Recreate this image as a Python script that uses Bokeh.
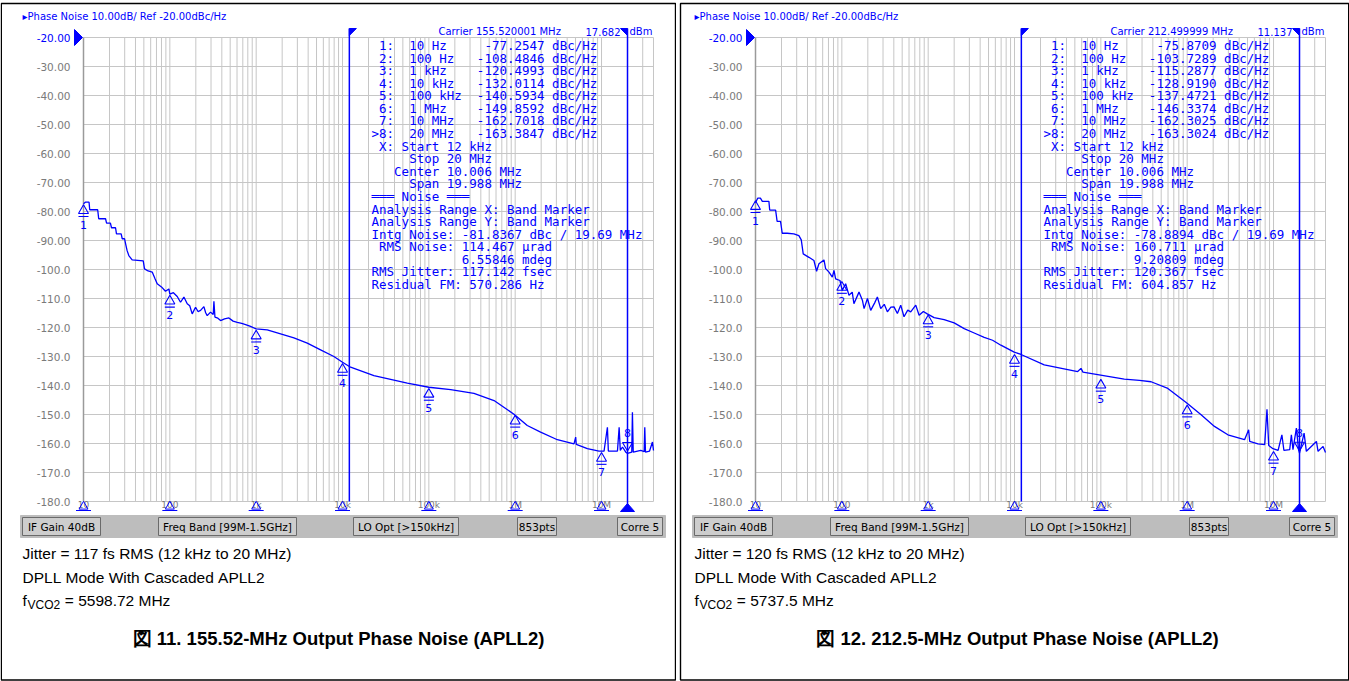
import math
from bokeh.plotting import figure
from bokeh.models import Range1d, Label, BoxAnnotation
from bokeh.layouts import row
from bokeh.embed import file_html
from bokeh.resources import INLINE
from bokeh.core.properties import value

# ---------------- data ----------------
freq_fig11 = [10, 10.5, 11.6, 11.8, 14.6, 15.0, 18.0, 18.5, 20.5, 21.1,
              23.5, 24.1, 27.3, 28.1, 29.9, 30.7, 32.0, 33.5, 36.6, 49.2,
              50.9, 56, 62.5, 67, 71.4, 80, 89, 97.5, 100, 110,
              121.8, 133, 145.5, 159, 170, 181.6, 198.6, 212, 227, 248,
              260, 271, 296, 318, 324, 333, 360, 387, 430, 483,
              540, 604, 680, 754, 860, 1000, 1343, 1918, 2736, 3908,
              5572, 7943, 1e4, 1.24e4, 2.31e4, 5.63e4, 1e5, 1.79e5, 3.33e5, 5.69e5,
              9.69e5, 1.38e6, 1.97e6, 3.08e6, 4.8e6, 5.02e6, 5.1e6, 6.86e6, 9.35e6, 1.07e7,
              1.17e7, 1.2e7, 1.53e7, 1.6e7, 1.65e7, 1.75e7, 1.91e7, 2e7, 2.24e7, 2.28e7,
              2.33e7, 2.85e7, 3.12e7, 3.17e7, 3.23e7, 3.6e7, 3.89e7, 4e7]
pn_fig11 = [-77.3, -76.8, -76.8, -79.4, -79.4, -82.5, -82.5, -84.0, -84.0, -85.6,
            -85.6, -87.7, -87.7, -89.4, -89.4, -91.1, -93.5, -95.2, -96.7, -97.0,
            -99.8, -100.5, -100.9, -103.0, -104.9, -106.0, -107.5, -106.7, -108.5, -108.0,
            -109.3, -111.3, -109.5, -111.8, -112.5, -115.3, -113.0, -114.5, -114.1, -112.8,
            -114.9, -115.9, -114.7, -115.5, -111.0, -116.4, -116.8, -117.6, -117.0, -116.7,
            -117.8, -118.2, -118.6, -119.0, -119.6, -120.5, -120.8, -122.2, -123.6, -125.4,
            -127.7, -130.0, -132.0, -133.7, -136.6, -139.2, -140.6, -141.4, -142.7, -145.2,
            -149.9, -153.8, -156.1, -158.7, -160.1, -157.8, -160.3, -161.8, -162.6, -162.6,
            -154.4, -162.6, -162.6, -154.4, -162.4, -161.2, -163.0, -163.4, -163.0, -149.2,
            -163.0, -162.4, -162.8, -154.4, -163.0, -162.6, -159.5, -162.4]

freq_fig12 = [10, 10.6, 11.4, 12.0, 14.3, 14.6, 17.1, 17.8, 19.5, 20.4,
              23.3, 27.8, 31.8, 33.9, 35.7, 41.6, 47.5, 51.0, 54.3, 62.1,
              64.9, 71.0, 77.6, 81.1, 84.7, 95.1, 101, 110.7, 121, 132,
              138, 158, 173, 181, 198, 216, 240, 258, 282, 310,
              337, 370, 402, 440, 481, 525, 580, 628, 718, 785,
              880, 964, 1172, 1531, 2000, 2612, 3412, 4456, 5572, 6950,
              9930, 1.19e4, 2.21e4, 5.39e4, 5.89e4, 6.2e4, 1.31e5, 1.87e5, 2.8e5, 3.82e5,
              5.97e5, 9.73e5, 1.45e6, 2.07e6, 2.96e6, 4.62e6, 5.15e6, 5.3e6, 6.6e6, 7.9e6,
              8.4e6, 8.8e6, 9.86e6, 1.13e7, 1.25e7, 1.32e7, 1.54e7, 1.61e7, 1.68e7, 1.84e7,
              1.95e7, 2e7, 2.26e7, 2.4e7, 3.14e7, 3.28e7, 3.75e7, 4e7]
pn_fig12 = [-77.0, -75.4, -75.4, -76.5, -76.5, -79.5, -79.5, -83.4, -83.4, -87.5,
            -87.5, -87.7, -88.3, -89.8, -94.6, -95.8, -96.9, -100.6, -98.0, -96.7,
            -99.7, -100.9, -102.6, -100.3, -103.2, -103.8, -107.2, -104.9, -108.9, -107.8,
            -111.8, -107.8, -110.6, -113.5, -110.0, -114.1, -111.5, -109.5, -113.5, -112.0,
            -114.6, -113.0, -112.9, -115.2, -112.3, -116.3, -114.0, -114.6, -112.3, -115.8,
            -114.5, -115.2, -116.6, -117.3, -118.4, -120.4, -121.9, -123.4, -124.4, -126.1,
            -128.5, -129.3, -132.9, -135.2, -134.1, -135.4, -137.0, -137.8, -138.2, -138.7,
            -141.0, -145.9, -150.1, -154.1, -157.0, -158.7, -155.3, -159.3, -160.1, -160.4,
            -148.2, -160.7, -161.8, -162.4, -157.0, -162.4, -162.1, -157.0, -162.1, -154.7,
            -162.1, -163.3, -156.4, -162.7, -159.3, -162.7, -161.0, -163.1]

marker_freq = [10, 100, 1e3, 1e4, 1e5, 1e6, 1e7, 2e7]
marker_freq_text = ["10 Hz", "100 Hz", "1 kHz", "10 kHz", "100 kHz", "1 MHz", "10 MHz", "20 MHz"]
marker_val_fig11 = [-77.2547, -108.4846, -120.4993, -132.0114, -140.5934, -149.8592, -162.7018, -163.3847]
marker_val_fig12 = [-75.8709, -103.7289, -115.2877, -128.9190, -137.4721, -146.3374, -162.3025, -163.3024]

carrier_mhz = ["155.520001", "212.499999"]
carrier_power = ["17.682", "11.137"]
intg_noise = ["-81.8367", "-78.8894"]
rms_noise_urad = ["114.467", "160.711"]
rms_noise_mdeg = ["6.55846", "9.20809"]
rms_jitter_fs = ["117.142", "120.367"]
residual_fm = ["570.286", "604.857"]
jitter_text = ["117", "120"]
fvco2_text = ["5598.72", "5737.5"]
figure_no = ["11", "12"]
output_freq = ["155.52", "212.5"]

band_start, band_stop = 12e3, 20e6
x_lo, x_hi = 10, 40e6
y_ticks = [-20, -30, -40, -50, -60, -70, -80, -90, -100, -110, -120, -130, -140, -150, -160, -170, -180]
decades = [10, 100, 1e3, 1e4, 1e5, 1e6, 1e7]
decade_labels = ["10", "100", "1k", "10k", "100k", "1M", "10M"]
status_items = ["IF Gain 40dB", "Freq Band [99M-1.5GHz]", "LO Opt [>150kHz]", "853pts", "Corre 5"]

# ---------------- geometry (reference pixels, left panel) ----------------
H = 681
GRID_L, GRID_R, GRID_T, GRID_B = 83, 653, 37, 501
PXD = (GRID_R - GRID_L) / (math.log10(x_hi) - math.log10(x_lo))   # px per decade
PXDB = (GRID_B - GRID_T) / 160.0                                  # px per dB
PANEL_SHIFT = 672

BLUE = "#0000ff"
GRIDC = "#c6c6c6"
GRAYT = "#7a7a7a"
NB = "\u00a0"


def fx(f, dpx):
    return f * 10 ** (dpx / PXD)


def fy(v, dpx):
    """dpx > 0 moves downwards on screen"""
    return v - dpx / PXDB


def yref(ry):
    return -20 - (ry - GRID_T) / PXDB


def yfmt(t):
    return f"{t:.2f}" if abs(t) < 100 else f"{t:.1f}"


def panel(k, canvas_left, width, freq, pn, mval, border_lr, caption_cx):
    # the frame covers the whole canvas; scales are set so that grid = reference grid
    xlo = 10 ** (math.log10(x_lo) - (GRID_L - canvas_left) / PXD)
    xhi = 10 ** (math.log10(x_lo) + (canvas_left + width - GRID_L) / PXD)
    yhi = -20 + GRID_T / PXDB
    ylo = -20 - (H - GRID_T) / PXDB
    p = figure(width=width, height=H, title=None, x_axis_type="log",
               x_axis_location=None, y_axis_location=None,
               x_range=Range1d(xlo, xhi), y_range=Range1d(ylo, yhi),
               output_backend="svg", toolbar_location=None,
               min_border_left=0, min_border_right=0, min_border_top=0, min_border_bottom=0)
    p.grid.visible = False
    p.outline_line_color = None
    p.background_fill_color = "white"
    p.border_fill_color = "white"

    def lab(rx, ry, text, size="10px", color=BLUE, font="DejaVu Sans", align="left", style="normal"):
        p.add_layout(Label(x=rx - canvas_left, y=H - ry, x_units="screen", y_units="screen",
                           text=text.replace(" ", NB), text_font=font, text_font_size=size,
                           text_color=color, text_align=align, text_baseline="middle",
                           text_font_style=style))

    def box(l, r, t, b, fill=None, line="black", lw=1.0):
        p.add_layout(BoxAnnotation(left=l - canvas_left, right=r - canvas_left, top=H - t, bottom=H - b,
                                   left_units="screen", right_units="screen",
                                   top_units="screen", bottom_units="screen",
                                   fill_color=fill if fill else "white", fill_alpha=1 if fill else 0,
                                   line_color=line, line_width=lw, line_alpha=1))

    # grid
    vgrid = [m * 10 ** e for e in range(1, 8) for m in range(1, 10) if m * 10 ** e <= x_hi]
    p.segment(x0=[x_lo] * len(y_ticks), x1=[x_hi] * len(y_ticks), y0=y_ticks, y1=y_ticks,
              line_color=GRIDC, line_width=1)
    p.segment(x0=vgrid, x1=vgrid, y0=[-180] * len(vgrid), y1=[-20] * len(vgrid),
              line_color=GRIDC, line_width=1)
    p.segment(x0=[x_lo], x1=[x_lo], y0=[-180], y1=[-20], line_color="#9a9a9a", line_width=1.5)

    # y tick labels through the scale
    p.text(x=[fx(x_lo, -13)] * (len(y_ticks) - 1), y=y_ticks[1:], text=[yfmt(t) for t in y_ticks[1:]],
           text_color=GRAYT, text_font=value("DejaVu Sans"), text_font_size="10.5px",
           text_align="right", text_baseline="middle")
    p.text(x=[fx(x_lo, -13)], y=y_ticks[:1], text=[yfmt(y_ticks[0])],
           text_color=BLUE, text_font=value("DejaVu Sans"), text_font_size="10.5px",
           text_align="right", text_baseline="middle")
    p.patches(xs=[[fx(x_lo, -9), fx(x_lo, -9), fx(x_lo, -1)]],
              ys=[[fy(-20, -8), fy(-20, 8), -20]], fill_color=BLUE, line_color=BLUE)

    # band markers
    ytop = yref(28)
    p.segment(x0=[band_start], x1=[band_start], y0=[ytop], y1=[-180], line_color=BLUE, line_width=1.5)
    p.segment(x0=[band_stop], x1=[band_stop], y0=[ytop], y1=[yref(510)], line_color=BLUE, line_width=1.5)
    p.patches(xs=[[band_start, fx(band_start, 7), band_start],
                  [band_stop, fx(band_stop, -7), band_stop],
                  [fx(band_stop, -7), fx(band_stop, 7), band_stop]],
              ys=[[ytop, ytop, fy(ytop, 7)],
                  [ytop, ytop, fy(ytop, 7)],
                  [yref(511), yref(511), yref(503)]],
              fill_color=BLUE, line_color=BLUE)

    # decade markers under the grid
    p.text(x=decades, y=[yref(504)] * len(decades), text=decade_labels, text_color=GRAYT,
           text_font=value("DejaVu Sans"), text_font_size="9px", text_align="center",
           text_baseline="middle")
    p.scatter(x=decades, y=[yref(506)] * len(decades), marker="triangle", size=9,
              line_color=BLUE, fill_color=None, line_width=1)
    p.scatter(x=decades, y=[yref(510)] * len(decades), marker="dash", size=15,
              line_color=BLUE, line_width=1)

    # trace
    p.line(freq, pn, line_color=BLUE, line_width=1.3)

    # markers on the trace
    p.scatter(x=marker_freq[:7], y=[fy(v, 7) for v in mval[:7]], marker="triangle", size=10,
              line_color=BLUE, fill_color=None, line_width=1.1)
    p.scatter(x=marker_freq[:7], y=[fy(v, 13) for v in mval[:7]], marker="dash", size=10,
              line_color=BLUE, line_width=1.1)
    p.text(x=marker_freq[:7], y=mval[:7], text=[str(i + 1) for i in range(7)], y_offset=21,
           text_color=BLUE, text_font=value("DejaVu Sans"), text_font_size="11px",
           text_align="center", text_baseline="middle")
    p.scatter(x=marker_freq[7:], y=[fy(v, -8) for v in mval[7:]], marker="inverted_triangle", size=10,
              line_color=BLUE, fill_color=None, line_width=1.1)
    p.text(x=marker_freq[7:], y=mval[7:], text=["8"], y_offset=-20,
           text_color=BLUE, text_font=value("DejaVu Sans"), text_font_size="11px",
           text_align="center", text_baseline="middle")

    # header texts
    lab(22, 16, "\u25b8Phase Noise 10.00dB/ Ref -20.00dBc/Hz", size="10px")
    lab(438, 31, f"Carrier {carrier_mhz[k]} MHz", size="10px")
    lab(620, 31, carrier_power[k], size="10px", align="right")
    lab(629, 31, "dBm", size="10px")

    # marker table and noise analysis (monospaced)
    rows = []
    for i in range(8):
        idx = (">" if i == 7 else "") + f"{i + 1}:"
        rows.append(f"{idx:>3}  {marker_freq_text[i]:<9}{mval[i]:>9.4f} dBc/Hz")
    center = (band_start + band_stop) / 2 / 1e6
    span = (band_stop - band_start) / 1e6
    rows += [f" X: Start {band_start / 1e3:g} kHz",
             f"     Stop {band_stop / 1e6:g} MHz",
             f"   Center {center:.3f} MHz",
             f"     Span {span:.3f} MHz",
             "\u2550\u2550\u2550 Noise \u2550\u2550\u2550",
             "Analysis Range X: Band Marker",
             "Analysis Range Y: Band Marker",
             f"Intg Noise: {intg_noise[k]} dBc / 19.69 MHz",
             f" RMS Noise: {rms_noise_urad[k]} \u00b5rad",
             f"            {rms_noise_mdeg[k]} mdeg",
             f"RMS Jitter: {rms_jitter_fs[k]} fsec",
             f"Residual FM: {residual_fm[k]} Hz"]
    for i, r in enumerate(rows):
        lab(371, 45 + 12.58 * i, r, size="12.5px", font="DejaVu Sans Mono")

    # status bar
    box(20, 665, 515, 537, fill="#bdbdbd", line="#bdbdbd")
    btns = [(22, 100), (158, 296), (353, 458), (517, 556), (617, 662)]
    for (l, r), t in zip(btns, status_items):
        box(l, r, 517, 535, fill="#cdcdcd", line="#6a6a6a")
        lab((l + r) / 2, 526.5, t, size="10.5px", color="black", align="center")

    # captions
    lab(22, 553, f"Jitter = {jitter_text[k]} fs RMS (12 kHz to 20 MHz)", size="15.5px",
        color="black", font="Liberation Sans")
    lab(22, 577, "DPLL Mode With Cascaded APLL2", size="15.5px", color="black", font="Liberation Sans")
    lab(22, 600, "f", size="15.5px", color="black", font="Liberation Sans")
    lab(27, 604, "VCO2", size="12px", color="black", font="Liberation Sans")
    lab(60, 600, f" = {fvco2_text[k]} MHz", size="15.5px", color="black", font="Liberation Sans")
    lab(caption_cx, 638, f"\u56f3 {figure_no[k]}. {output_freq[k]}-MHz Output Phase Noise (APLL2)",
        size="18.5px", color="black", font="Liberation Sans", align="center", style="bold")

    # panel border
    box(border_lr[0], border_lr[1], 3, 679.5, fill=None, line="black", lw=1.4)
    return p


p1 = panel(0, 0, 676, freq_fig11, pn_fig11, marker_val_fig11, (0.8, 675), 338)
p2 = panel(1, 676 - PANEL_SHIFT, 673, freq_fig12, pn_fig12, marker_val_fig12, (8, 676.2), 345)

layout = row(p1, p2)
open("out.html", "w").write(file_html(layout, INLINE))
